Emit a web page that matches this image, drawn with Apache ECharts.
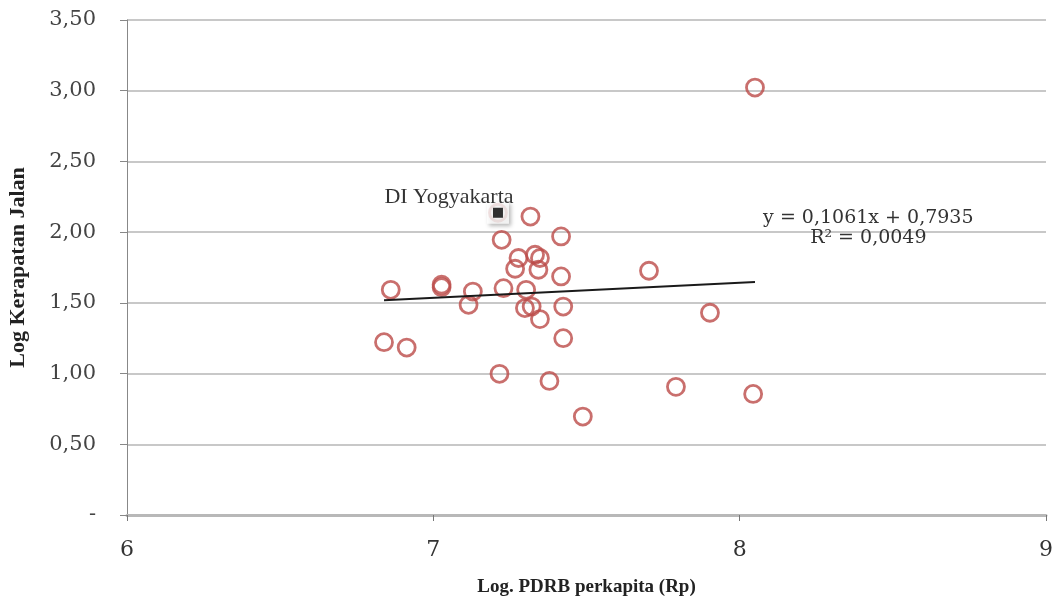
<!DOCTYPE html>
<html>
<head>
<meta charset="utf-8">
<script src="https://cdn.jsdelivr.net/npm/echarts@6/dist/echarts.min.js"></script>
<style>
  html, body { margin: 0; padding: 0; background: #fff; }
  #chart { width: 1055px; height: 598px; }
</style>
</head>
<body>
<div id="chart"></div>
<script>
// Log GRDP per capita (x) vs log road density (y), one point per province
const provinceX = [8.05, 6.839, 6.913, 6.861, 7.027, 7.027, 7.129, 7.115, 7.229, 7.223,
                   7.317, 7.417, 7.278, 7.332, 7.348, 7.267, 7.343, 7.417, 7.303, 7.299,
                   7.321, 7.348, 7.424, 7.424, 7.216, 7.379, 7.488, 7.704, 7.903, 7.792,
                   8.044, 7.211];
const provinceY = [3.022, 1.222, 1.184, 1.592, 1.628, 1.611, 1.58, 1.486, 1.604, 1.946,
                   2.11, 1.97, 1.817, 1.84, 1.817, 1.741, 1.734, 1.687, 1.592, 1.463,
                   1.474, 1.385, 1.474, 1.25, 0.998, 0.948, 0.696, 1.727, 1.43, 0.906,
                   0.856, 2.137];

// Highlighted province
const highlightName = 'DI Yogyakarta';
const highlightX = [7.211];
const highlightY = [2.137];

// Linear trend fitted to the points
const trendSlope = 0.1061;
const trendIntercept = 0.7935;
const trendR2 = 0.0049;

const xTicks = [6, 7, 8, 9];
const yTickLabels = ['-', '0,50', '1,00', '1,50', '2,00', '2,50', '3,00', '3,50'];

const fmt = (v, d) => v.toFixed(d).replace('.', ',');
const fitX = provinceX.slice(0, provinceX.length - 1);
const xMin = Math.min(...fitX), xMax = Math.max(...fitX);
const trendLine = [[xMin, trendSlope * xMin + trendIntercept], [xMax, trendSlope * xMax + trendIntercept]];

const serif = '"Liberation Serif", serif';
const dvSerif = '"DejaVu Serif", serif';
const highlightPts = highlightX.map((x, i) => [x, highlightY[i]]);

const chart = echarts.init(document.getElementById('chart'));
chart.setOption({
  animation: false,
  backgroundColor: '#fff',
  grid: { left: 127, right: 9, top: 20, bottom: 83, containLabel: false, outerBoundsMode: 'none' },
  xAxis: {
    type: 'value', min: xTicks[0], max: xTicks[xTicks.length - 1], interval: 1,
    name: 'Log. PDRB perkapita (Rp)', nameLocation: 'middle', nameGap: 63,
    nameTextStyle: { fontFamily: serif, fontWeight: 'bold', fontSize: 19, color: '#222' },
    axisLine: { show: true, lineStyle: { color: '#b8b8b8', width: 3 } },
    axisTick: { show: true, length: 6, lineStyle: { color: '#777', width: 1 } },
    axisLabel: { fontFamily: dvSerif, fontSize: 22, color: '#333', margin: 24 },
    splitLine: { show: false }
  },
  yAxis: {
    type: 'value', min: 0, max: 3.5, interval: 0.5,
    name: 'Log Kerapatan Jalan', nameLocation: 'middle', nameGap: 98,
    nameTextStyle: { fontFamily: serif, fontWeight: 'bold', fontSize: 22, color: '#222' },
    axisLine: { show: true, lineStyle: { color: '#888', width: 1 } },
    axisTick: { show: true, length: 7, lineStyle: { color: '#888' } },
    axisLabel: {
      fontFamily: dvSerif, fontSize: 21, color: '#444', margin: 31,
      formatter: v => yTickLabels[Math.round(v / 0.5)]
    },
    splitLine: { show: true, lineStyle: { color: '#c8c8c8', width: 2 } }
  },
  series: [
    {
      type: 'scatter',
      data: provinceX.map((x, i) => [x, provinceY[i]]),
      symbol: 'circle', symbolSize: 17,
      itemStyle: { color: 'rgba(0,0,0,0)', borderColor: '#bb4b49', borderWidth: 2.8 },
      z: 3
    },
    {
      type: 'line',
      data: trendLine,
      symbol: 'none',
      lineStyle: { color: '#1a1a1a', width: 2 },
      z: 4,
      markPoint: {
        symbol: 'rect', symbolSize: 1,
        itemStyle: { color: 'rgba(0,0,0,0)' },
        data: [{
          coord: [8.42, 2.03],
          label: {
            show: true, position: 'inside',
            formatter: 'y = ' + fmt(trendSlope, 4) + 'x + ' + fmt(trendIntercept, 4) + '\nR² = ' + fmt(trendR2, 4),
            fontFamily: dvSerif, fontSize: 19, color: '#333', lineHeight: 20, align: 'center'
          }
        }]
      }
    },
    {
      // white tag behind the highlighted province
      type: 'scatter',
      data: highlightPts,
      symbol: 'rect', symbolSize: 22,
      itemStyle: { color: '#fff', shadowColor: 'rgba(0,0,0,0.35)', shadowBlur: 4, shadowOffsetX: 2, shadowOffsetY: 2 },
      label: {
        show: true, position: 'top', distance: 0, offset: [-49, 6], formatter: highlightName,
        fontFamily: serif, fontSize: 22, color: '#000'
      },
      z: 5
    },
    {
      type: 'scatter',
      data: highlightPts,
      symbol: 'rect', symbolSize: 10,
      itemStyle: { color: '#000' },
      z: 6
    }
  ]
});
</script>
</body>
</html>
